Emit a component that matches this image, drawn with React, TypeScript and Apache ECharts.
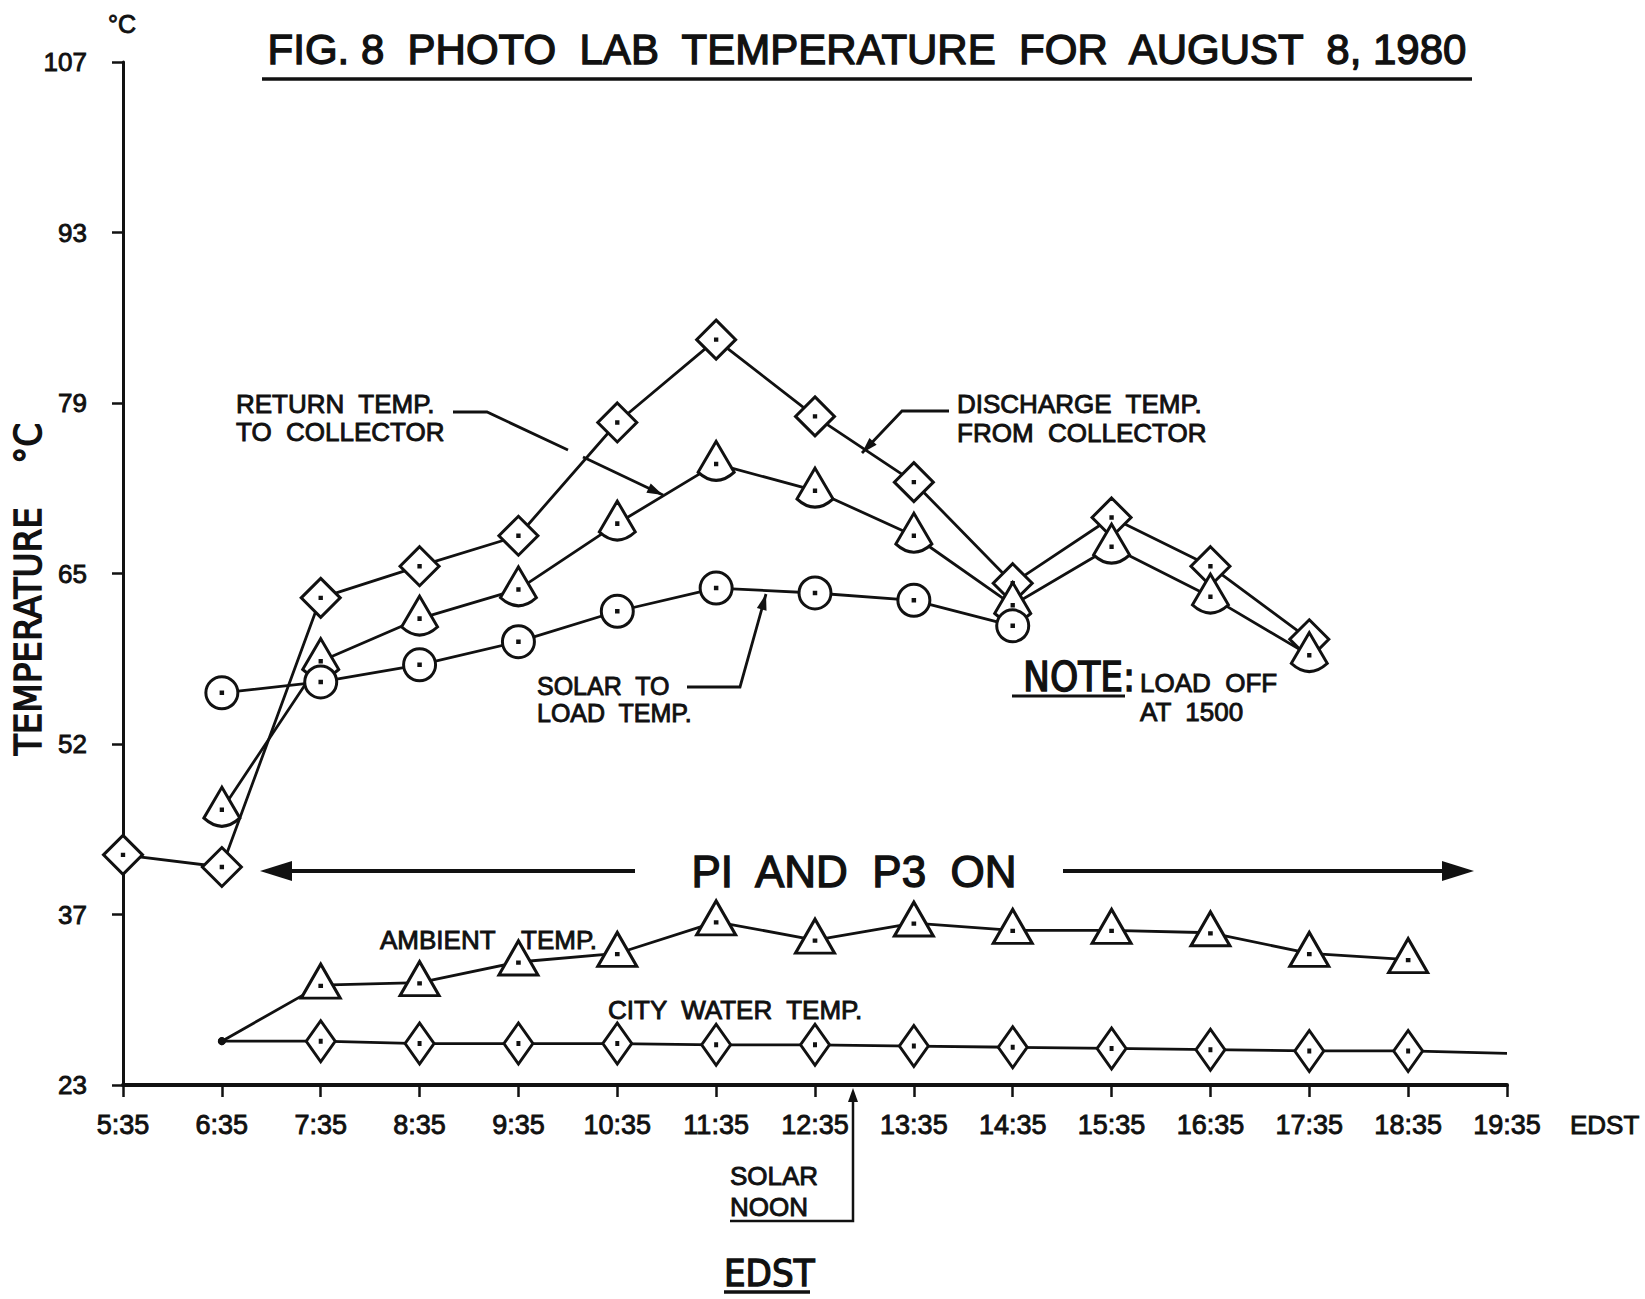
import React, { useEffect, useRef } from "react";
import * as echarts from "echarts";

// ---- data ----
const timeLabels = ["5:35", "6:35", "7:35", "8:35", "9:35", "10:35", "11:35", "12:35", "13:35", "14:35", "15:35", "16:35", "17:35", "18:35", "19:35"];
const yTickValues = [23, 37, 51, 65, 79, 93, 107];
const yTickLabels = ["23", "37", "52", "65", "79", "93", "107"];

const dischargeTemp = [41.9, 40.9, 63.0, 65.6, 68.1, 77.4, 84.2, 77.9, 72.5, 64.2, 69.6, 65.6, 59.6, null, null];
const returnTemp = [null, 45.6, 57.8, 61.3, 63.7, 69.1, 74.0, 71.8, 68.1, 62.4, 67.2, 63.1, 58.3, null, null];
const solarToLoad = [null, 55.2, 56.1, 57.5, 59.4, 61.9, 63.8, 63.4, 62.8, 60.7, null, null, null, null, null];
const ambientTemp = [null, 26.6, 31.2, 31.4, 33.1, 33.8, 36.4, 34.9, 36.3, 35.7, 35.7, 35.5, 33.8, 33.3, null];
const cityWaterTemp = [null, 26.6, 26.6, 26.4, 26.4, 26.4, 26.3, 26.3, 26.2, 26.1, 26.0, 25.9, 25.8, 25.8, 25.6];

const INK = "#111";
const SANS = '"Liberation Sans", Arial, sans-serif';
const NARROW = '"Liberation Sans Narrow", "DejaVu Sans Condensed", "Liberation Sans", sans-serif';

const SYM_SQ_DIAMOND = "path://M20 0 L40 20 L20 40 L0 20 Z M19.3 19.3 L20.7 19.3 L20.7 20.7 L19.3 20.7 Z";
const SYM_CONE = "path://M18 0 L0 30 Q18 46 36 30 Z M17.3 21.3 L18.7 21.3 L18.7 22.7 L17.3 22.7 Z";
const SYM_CIRCLE = "path://M15 0 A15 15 0 1 1 15 30 A15 15 0 1 1 15 0 Z M14.3 14.3 L15.7 14.3 L15.7 15.7 L14.3 15.7 Z";
const SYM_TRIANGLE = "path://M19 0 L38 33 L0 33 Z M18.3 20.3 L19.7 20.3 L19.7 21.7 L18.3 21.7 Z";
const SYM_TALL_DIAMOND = "path://M14 0 L28 20 L14 40 L0 20 Z M13.3 19.3 L14.7 19.3 L14.7 20.7 L13.3 20.7 Z";

function withStartDot(arr: (number | null)[]) {
  return arr.map((v, i) => {
    if (v === null) return null;
    if (i === 1) return { value: v, symbol: "circle", symbolSize: 8, symbolOffset: [0, 0], itemStyle: { color: INK, borderWidth: 0 } };
    return v;
  });
}

function cityData(arr: (number | null)[]) {
  const out = withStartDot(arr) as any[];
  const last = out.length - 1;
  if (out[last] !== null) out[last] = { value: arr[last], symbol: "none" };
  return out;
}

function head(tip: number[], from: number[], len = 16, hw = 5) {
  const dx = tip[0] - from[0];
  const dy = tip[1] - from[1];
  const d = Math.hypot(dx, dy);
  const ux = dx / d;
  const uy = dy / d;
  const bx = tip[0] - ux * len;
  const by = tip[1] - uy * len;
  return {
    type: "polygon",
    shape: { points: [[tip[0], tip[1]], [bx - uy * hw, by + ux * hw], [bx + uy * hw, by - ux * hw]] },
    style: { fill: INK },
  };
}

function txt(text: string, x: number, y: number, size = 26, opts: any = {}) {
  return {
    type: "text",
    x,
    y,
    rotation: opts.rotation || 0,
    style: {
      text,
      fill: INK,
      stroke: INK,
      lineWidth: opts.stroke ?? 0.9,
      fontSize: size,
      lineHeight: opts.lineHeight || Math.round(size * 1.15),
      fontFamily: opts.family || SANS,
      fontWeight: opts.weight || "normal",
      textAlign: opts.align || "left",
      textVerticalAlign: "middle",
    },
  };
}

function pl(points: number[][], w = 2.8) {
  return { type: "polyline", shape: { points }, style: { stroke: INK, lineWidth: w, fill: null } };
}

function ln(x1: number, y1: number, x2: number, y2: number, w = 3) {
  return { type: "line", shape: { x1, y1, x2, y2 }, style: { stroke: INK, lineWidth: w } };
}

const markerStyle = { color: "#fff", borderColor: INK, borderWidth: 3 };
const lineStyle = { color: INK, width: 2.8 };

export default function App() {
  const ref = useRef<HTMLDivElement>(null);

  useEffect(() => {
    if (!ref.current) return;
    const chart = echarts.init(ref.current, null, { renderer: "svg" });

    const graphics: any[] = [
      txt("°C", 122, 24, 25, { align: "center" }),
      txt("FIG. 8  PHOTO  LAB  TEMPERATURE  FOR  AUGUST  8, 1980", 867, 49, 42, { align: "center", stroke: 1.3 }),
      ln(262, 79, 1472, 79, 3.5),
      txt("TEMPERATURE    °C", 28, 589, 38, { align: "center", rotation: Math.PI / 2, family: NARROW, stroke: 1.4 }),

      txt("RETURN  TEMP.\nTO  COLLECTOR", 236, 418, 26, { lineHeight: 28 }),
      pl([[453, 412], [487, 412], [568, 450]]),
      pl([[583, 457], [663, 495]]),
      head([663, 495], [583, 457]),

      txt("DISCHARGE  TEMP.\nFROM  COLLECTOR", 957, 418, 26, { lineHeight: 29 }),
      pl([[949, 411], [902, 411], [862, 453]]),
      head([862, 453], [902, 411]),

      txt("SOLAR  TO\nLOAD  TEMP.", 537, 699, 25, { lineHeight: 27 }),
      pl([[687, 687], [740, 687], [766, 594]]),
      head([766, 594], [740, 687]),

      txt("NOTE:", 1023, 677, 40, { family: NARROW, stroke: 1.3 }),
      ln(1012, 696, 1125, 696, 3),
      txt("LOAD  OFF\nAT  1500", 1140, 697, 26, { lineHeight: 29 }),

      txt("PI  AND  P3  ON", 854, 871, 44, { align: "center", stroke: 1.3 }),
      ln(635, 871, 285, 871, 4),
      head([260, 871], [635, 871], 32, 10),
      ln(1063, 871, 1445, 871, 4),
      head([1474, 871], [1063, 871], 32, 10),

      txt("AMBIENT", 380, 940),
      txt("TEMP.", 521, 940),
      txt("CITY  WATER  TEMP.", 608, 1010),

      txt("SOLAR\nNOON", 730, 1191, 26, { lineHeight: 31 }),
      pl([[730, 1221], [853, 1221], [853, 1100]], 2.5),
      head([853, 1088], [853, 1221], 14, 5),

      txt("EDST", 724, 1273, 38, { family: NARROW, stroke: 1.3 }),
      ln(724, 1292, 810, 1292, 3.5),
      txt("EDST", 1570, 1125, 26),
    ];

    chart.setOption({
      animation: false,
      backgroundColor: "#fff",
      grid: { left: 123, right: 138, top: 62, bottom: 214, containLabel: false },
      xAxis: {
        type: "category",
        data: timeLabels,
        boundaryGap: false,
        axisLine: { lineStyle: { color: INK, width: 4 } },
        axisTick: { alignWithLabel: true, length: 12, lineStyle: { color: INK, width: 2.5 } },
        axisLabel: {
          interval: 0,
          margin: 26,
          fontSize: 27,
          color: INK,
          fontFamily: SANS,
          textBorderColor: INK,
          textBorderWidth: 0.9,
        },
        splitLine: { show: false },
      },
      yAxis: {
        type: "value",
        min: 23,
        max: 107,
        axisLine: { show: true, lineStyle: { color: INK, width: 3 } },
        axisTick: { show: true, length: 11, customValues: yTickValues, lineStyle: { color: INK, width: 2.5 } },
        axisLabel: {
          customValues: yTickValues,
          margin: 36,
          fontSize: 26,
          color: INK,
          fontFamily: SANS,
          textBorderColor: INK,
          textBorderWidth: 0.9,
          formatter: (v: number) => {
            const i = yTickValues.indexOf(v);
            return i >= 0 ? yTickLabels[i] : "";
          },
        },
        splitLine: { show: false },
      },
      series: [
        {
          name: "Discharge temp. from collector",
          type: "line",
          data: dischargeTemp,
          symbol: SYM_SQ_DIAMOND,
          symbolSize: [39, 39],
          itemStyle: markerStyle,
          lineStyle,
        },
        {
          name: "Return temp. to collector",
          type: "line",
          data: returnTemp,
          symbol: SYM_CONE,
          symbolSize: [36, 39],
          symbolOffset: [0, -3],
          itemStyle: markerStyle,
          lineStyle,
        },
        {
          name: "Solar to load temp.",
          type: "line",
          data: solarToLoad,
          symbol: SYM_CIRCLE,
          symbolSize: [32, 32],
          itemStyle: markerStyle,
          lineStyle,
        },
        {
          name: "Ambient temp.",
          type: "line",
          data: withStartDot(ambientTemp),
          symbol: SYM_TRIANGLE,
          symbolSize: [39, 34],
          symbolOffset: [0, -4],
          itemStyle: markerStyle,
          lineStyle,
        },
        {
          name: "City water temp.",
          type: "line",
          data: cityData(cityWaterTemp),
          symbol: SYM_TALL_DIAMOND,
          symbolSize: [29, 41],
          itemStyle: markerStyle,
          lineStyle,
        },
      ],
      graphic: graphics,
    });

    return () => chart.dispose();
  }, []);

  return <div ref={ref} style={{ position: "absolute", left: 0, top: 0, width: 1645, height: 1299 }} />;
}
